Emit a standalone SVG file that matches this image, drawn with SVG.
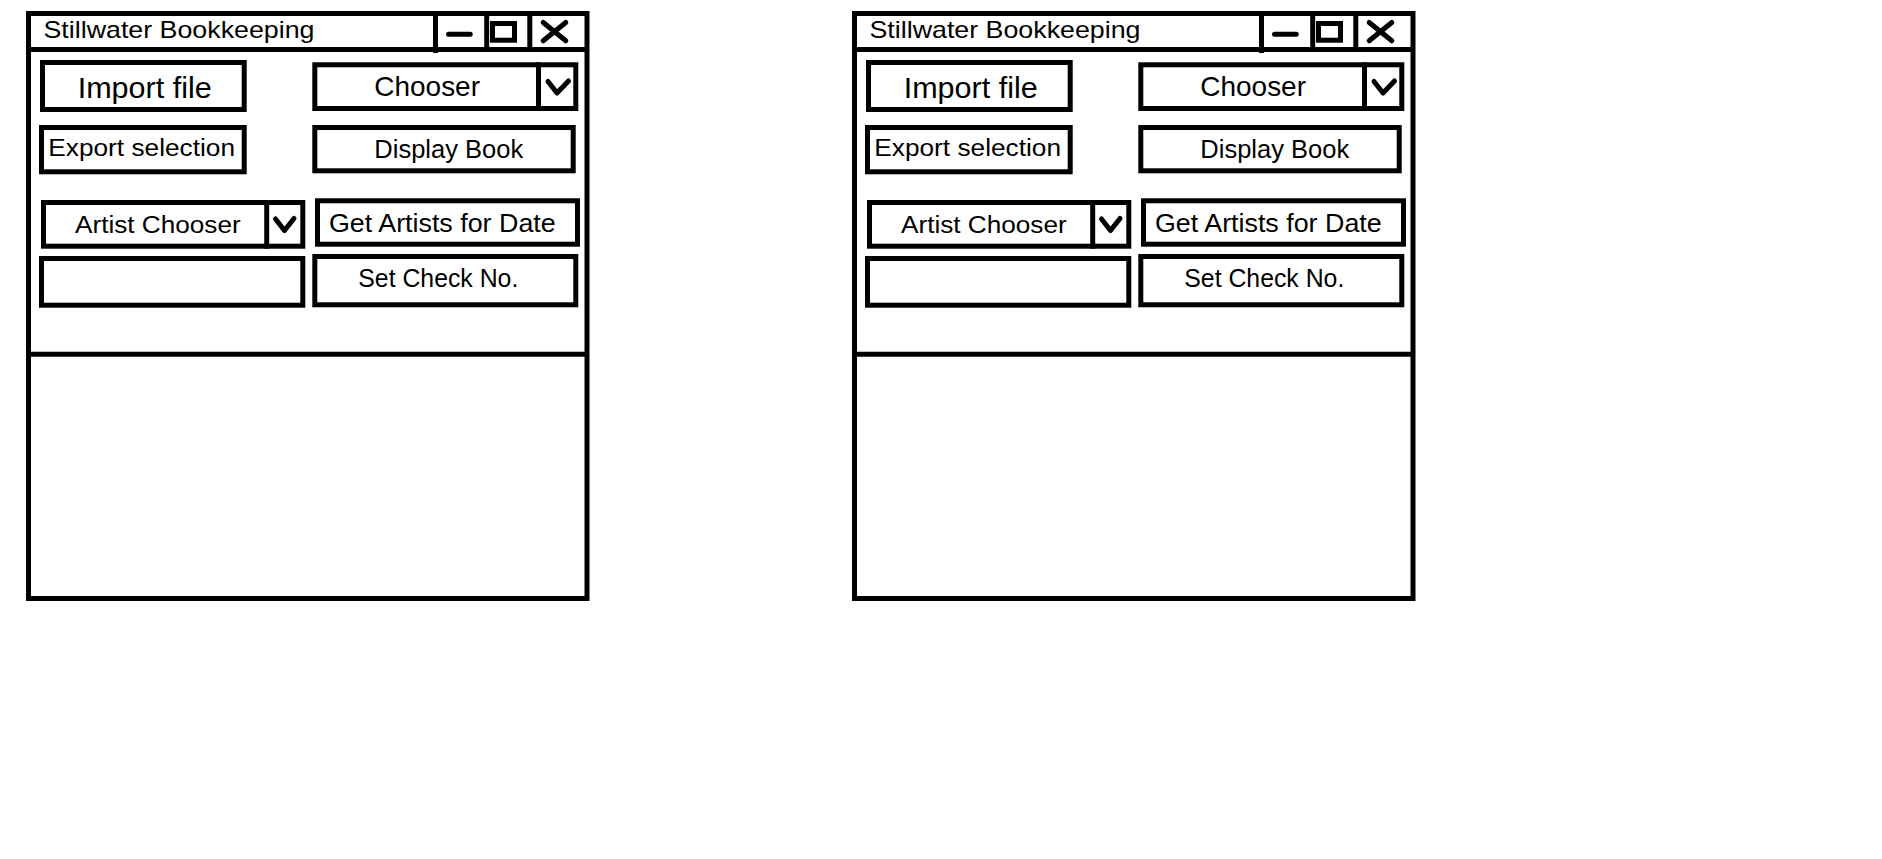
<svg xmlns="http://www.w3.org/2000/svg" width="1882" height="859" viewBox="0 0 1882 859">
<style>
.box{fill:#fff;stroke:#000;stroke-width:5}
.ln{stroke:#000;stroke-width:5;fill:none}
.rl{stroke:#000;stroke-width:5;fill:none;stroke-linecap:round;stroke-linejoin:round}
.t{font-family:"Liberation Sans",Arial,sans-serif;fill:#000}
</style>
<rect width="1882" height="859" fill="#fff"/>
<g id="window-left">
  <g id="left-frame">
    <rect class="box" x="28.5" y="13.5" width="558.5" height="585"/>
    <line class="ln" x1="28.5" y1="49.5" x2="587" y2="49.5"/>
    <line class="ln" x1="28.5" y1="354.2" x2="587" y2="354.2"/>
  </g>
  <g id="left-titlebar">
    <text class="t" x="43.5" y="37.7" font-size="24" textLength="271" lengthAdjust="spacingAndGlyphs">Stillwater Bookkeeping</text>
    <line class="ln" x1="435.5" y1="13.5" x2="435.5" y2="53"/>
    <line class="ln" x1="486.7" y1="13.5" x2="486.7" y2="49.5"/>
    <line class="ln" x1="529.8" y1="13.5" x2="529.8" y2="49.5"/>
    <line class="rl" x1="448.5" y1="34.2" x2="470.2" y2="34.2"/>
    <rect class="ln" x="492.5" y="23.5" width="22" height="16.7"/>
    <line class="rl" x1="543.2" y1="22.5" x2="565.8" y2="40.8"/>
    <line class="rl" x1="543.2" y1="40.8" x2="565.8" y2="22.5"/>
  </g>
  <g id="left-import-file">
    <rect class="box" x="42.5" y="62.5" width="201.7" height="47"/>
    <text class="t" x="77.7" y="97.7" font-size="30" textLength="134" lengthAdjust="spacingAndGlyphs">Import file</text>
  </g>
  <g id="left-chooser">
    <rect class="box" x="314.8" y="64.8" width="261" height="43.7"/>
    <line class="ln" x1="538.5" y1="62.3" x2="538.5" y2="111"/>
    <polyline class="rl" points="548,81.5 557,93 568.5,81"/>
    <text class="t" x="374.3" y="95.7" font-size="27.5" textLength="105.7" lengthAdjust="spacingAndGlyphs">Chooser</text>
  </g>
  <g id="left-export-selection">
    <rect class="box" x="41.5" y="127.5" width="202.7" height="44.3"/>
    <text class="t" x="48.3" y="156" font-size="24.7" textLength="186.7" lengthAdjust="spacingAndGlyphs">Export selection</text>
  </g>
  <g id="left-display-book">
    <rect class="box" x="314.8" y="127.5" width="258.4" height="43.3"/>
    <text class="t" x="374.3" y="158.3" font-size="25.6" textLength="149" lengthAdjust="spacingAndGlyphs">Display Book</text>
  </g>
  <g id="left-artist-chooser">
    <rect class="box" x="43.5" y="202.5" width="259.3" height="43.7"/>
    <line class="ln" x1="266.7" y1="200" x2="266.7" y2="248.7"/>
    <polyline class="rl" points="275.5,219 284.5,230.5 294,218.5"/>
    <text class="t" x="75" y="232.7" font-size="24.7" textLength="165.7" lengthAdjust="spacingAndGlyphs">Artist Chooser</text>
  </g>
  <g id="left-get-artists">
    <rect class="box" x="317.5" y="200.8" width="260" height="43.4"/>
    <text class="t" x="329" y="231.7" font-size="25.6" textLength="226.7" lengthAdjust="spacingAndGlyphs">Get Artists for Date</text>
  </g>
  <g id="left-input">
    <rect class="box" x="41.5" y="258.5" width="261.3" height="46.7"/>
  </g>
  <g id="left-set-check">
    <rect class="box" x="314.8" y="256.5" width="261" height="48.3"/>
    <text class="t" x="358.3" y="287.3" font-size="26.5" textLength="160" lengthAdjust="spacingAndGlyphs">Set Check No.</text>
  </g>
</g>
<g id="window-right" transform="translate(826,0)">
  <g id="right-frame">
    <rect class="box" x="28.5" y="13.5" width="558.5" height="585"/>
    <line class="ln" x1="28.5" y1="49.5" x2="587" y2="49.5"/>
    <line class="ln" x1="28.5" y1="354.2" x2="587" y2="354.2"/>
  </g>
  <g id="right-titlebar">
    <text class="t" x="43.5" y="37.7" font-size="24" textLength="271" lengthAdjust="spacingAndGlyphs">Stillwater Bookkeeping</text>
    <line class="ln" x1="435.5" y1="13.5" x2="435.5" y2="53"/>
    <line class="ln" x1="486.7" y1="13.5" x2="486.7" y2="49.5"/>
    <line class="ln" x1="529.8" y1="13.5" x2="529.8" y2="49.5"/>
    <line class="rl" x1="448.5" y1="34.2" x2="470.2" y2="34.2"/>
    <rect class="ln" x="492.5" y="23.5" width="22" height="16.7"/>
    <line class="rl" x1="543.2" y1="22.5" x2="565.8" y2="40.8"/>
    <line class="rl" x1="543.2" y1="40.8" x2="565.8" y2="22.5"/>
  </g>
  <g id="right-import-file">
    <rect class="box" x="42.5" y="62.5" width="201.7" height="47"/>
    <text class="t" x="77.7" y="97.7" font-size="30" textLength="134" lengthAdjust="spacingAndGlyphs">Import file</text>
  </g>
  <g id="right-chooser">
    <rect class="box" x="314.8" y="64.8" width="261" height="43.7"/>
    <line class="ln" x1="538.5" y1="62.3" x2="538.5" y2="111"/>
    <polyline class="rl" points="548,81.5 557,93 568.5,81"/>
    <text class="t" x="374.3" y="95.7" font-size="27.5" textLength="105.7" lengthAdjust="spacingAndGlyphs">Chooser</text>
  </g>
  <g id="right-export-selection">
    <rect class="box" x="41.5" y="127.5" width="202.7" height="44.3"/>
    <text class="t" x="48.3" y="156" font-size="24.7" textLength="186.7" lengthAdjust="spacingAndGlyphs">Export selection</text>
  </g>
  <g id="right-display-book">
    <rect class="box" x="314.8" y="127.5" width="258.4" height="43.3"/>
    <text class="t" x="374.3" y="158.3" font-size="25.6" textLength="149" lengthAdjust="spacingAndGlyphs">Display Book</text>
  </g>
  <g id="right-artist-chooser">
    <rect class="box" x="43.5" y="202.5" width="259.3" height="43.7"/>
    <line class="ln" x1="266.7" y1="200" x2="266.7" y2="248.7"/>
    <polyline class="rl" points="275.5,219 284.5,230.5 294,218.5"/>
    <text class="t" x="75" y="232.7" font-size="24.7" textLength="165.7" lengthAdjust="spacingAndGlyphs">Artist Chooser</text>
  </g>
  <g id="right-get-artists">
    <rect class="box" x="317.5" y="200.8" width="260" height="43.4"/>
    <text class="t" x="329" y="231.7" font-size="25.6" textLength="226.7" lengthAdjust="spacingAndGlyphs">Get Artists for Date</text>
  </g>
  <g id="right-input">
    <rect class="box" x="41.5" y="258.5" width="261.3" height="46.7"/>
  </g>
  <g id="right-set-check">
    <rect class="box" x="314.8" y="256.5" width="261" height="48.3"/>
    <text class="t" x="358.3" y="287.3" font-size="26.5" textLength="160" lengthAdjust="spacingAndGlyphs">Set Check No.</text>
  </g>
</g>
</svg>
